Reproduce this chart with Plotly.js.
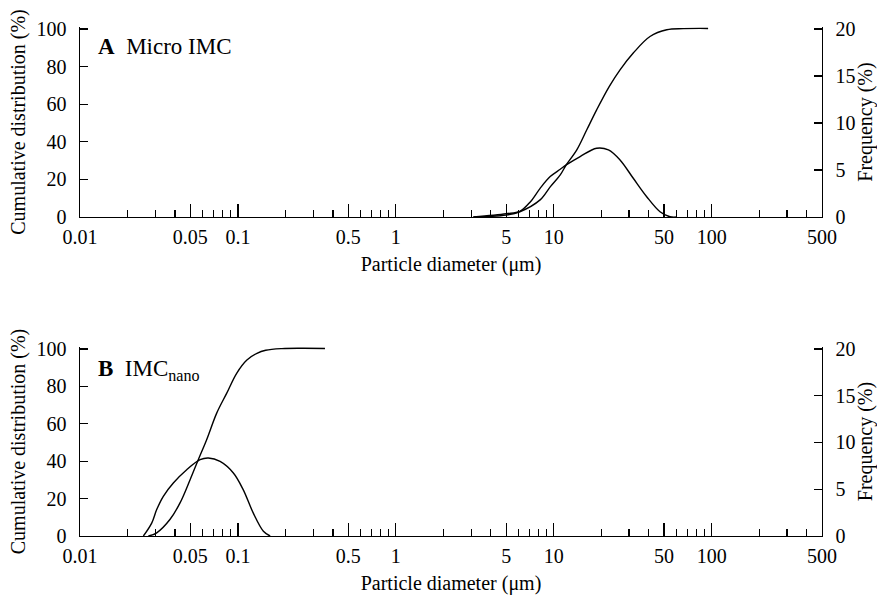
<!DOCTYPE html>
<html>
<head>
<meta charset="utf-8">
<script src="https://cdn.plot.ly/plotly-3.0.1.min.js"></script>
<style>html,body{margin:0;padding:0;background:#fff;}</style>
</head>
<body>
<div id="chart" style="width:877px;height:595px;"></div>
<script>
// ---- Panel A: Micro IMC ----
const microCumX = [3.1, 5, 6.1, 8.2, 9.5, 11.0, 12.0, 14.0, 16.2, 18.7, 22.5, 26.3, 31.9, 40.7, 52, 66, 95];
const microCumY = [0, 1.0, 2.8, 9.1, 16, 22.4, 27.7, 35.7, 46.4, 57, 69.5, 78.3, 87.2, 96, 99.6, 100.2, 100.3];
const microFreqX = [3.1, 5, 6.1, 7.1, 8.2, 9.5, 11.0, 12.0, 14.7, 18.7, 22.2, 26.3, 31.9, 38.8, 47.1, 54.5, 60];
const microFreqY = [0, 0.35, 0.6, 1.6, 3.05, 4.3, 5.08, 5.54, 6.43, 7.32, 7.14, 6.07, 4.12, 2.16, 0.56, 0.03, 0];

// ---- Panel B: IMC nano ----
const nanoCumX = [0.0271, 0.0306, 0.0371, 0.043, 0.0498, 0.0561, 0.0634, 0.0734, 0.085, 0.0982, 0.114, 0.132, 0.15, 0.19, 0.25, 0.356];
const nanoCumY = [0, 1.7, 8.8, 17.7, 30.1, 40.8, 51.5, 65.7, 76.4, 87, 94.1, 97.7, 99.3, 100.2, 100.4, 100.3];
const nanoFreqX = [0.0252, 0.0285, 0.0306, 0.0337, 0.039, 0.0474, 0.0576, 0.065, 0.0771, 0.0936, 0.108, 0.125, 0.145, 0.16];
const nanoFreqY = [0, 1.41, 2.83, 4.25, 5.67, 7.09, 8.16, 8.34, 7.98, 6.74, 4.96, 2.47, 0.51, 0];

// ---- Axis ticks ----
const majorTicks = [0.01, 0.05, 0.1, 0.5, 1, 5, 10, 50, 100, 500];
const majorLabels = ['0.01', '0.05', '0.1', '0.5', '1', '5', '10', '50', '100', '500'];
const minorTicks = [0.02, 0.03, 0.04, 0.06, 0.07, 0.08, 0.09,
  0.2, 0.3, 0.4, 0.6, 0.7, 0.8, 0.9,
  2, 3, 4, 6, 7, 8, 9,
  20, 30, 40, 60, 70, 80, 90,
  200, 300, 400];
const cumTicks = [0, 20, 40, 60, 80, 100];
const freqTicks = [0, 5, 10, 15, 20];

const FONT = {family: 'Liberation Serif, Times New Roman, serif', size: 20, color: '#000'};
const ANN_FONT = {family: 'Liberation Serif, Times New Roman, serif', size: 23, color: '#000'};
const lineStyle = {color: '#000', width: 1.4, shape: 'spline', smoothing: 1};

const traces = [
  {x: microCumX, y: microCumY, xaxis: 'x', yaxis: 'y', mode: 'lines', line: lineStyle},
  {x: microFreqX, y: microFreqY, xaxis: 'x', yaxis: 'y2', mode: 'lines', line: lineStyle},
  {x: nanoCumX, y: nanoCumY, xaxis: 'x2', yaxis: 'y3', mode: 'lines', line: lineStyle},
  {x: nanoFreqX, y: nanoFreqY, xaxis: 'x2', yaxis: 'y4', mode: 'lines', line: lineStyle}
];

function xAxis(anchor) {
  return {
    type: 'log', range: [-2, Math.log10(500)], anchor: anchor,
    showline: true, linecolor: '#000', linewidth: 1.4, mirror: false,
    showgrid: false, zeroline: false,
    tickmode: 'array', tickvals: majorTicks, ticktext: majorLabels,
    ticks: 'inside', ticklen: 13, tickwidth: 1.3, tickcolor: '#000',
    ticklabelstandoff: 2,
    minor: {tickmode: 'array', tickvals: minorTicks, ticks: 'inside', ticklen: 7, tickwidth: 1.2, tickcolor: '#000', showgrid: false},
    tickfont: FONT,
    title: {text: 'Particle diameter (μm)', font: FONT, standoff: 9}
  };
}
function yLeft(domain, anchor) {
  return {
    domain: domain, anchor: anchor, range: [0, 101.06],
    showline: true, linecolor: '#000', linewidth: 1.4,
    showgrid: false, zeroline: false,
    tickmode: 'array', tickvals: cumTicks,
    ticks: 'inside', ticklen: 8, tickwidth: 1.3, tickcolor: '#000',
    ticklabelstandoff: 8,
    tickfont: FONT,
    title: {text: 'Cumulative distribution (%)', font: FONT, standoff: 5}
  };
}
function yRight(overlay, anchor) {
  return {
    overlaying: overlay, anchor: anchor, side: 'right', range: [0, 20.212],
    showline: true, linecolor: '#000', linewidth: 1.4,
    showgrid: false, zeroline: false,
    tickmode: 'array', tickvals: freqTicks,
    ticks: 'inside', ticklen: 8, tickwidth: 1.3, tickcolor: '#000',
    ticklabelstandoff: 8,
    tickfont: FONT,
    title: {text: 'Frequency (%)', font: FONT, standoff: 4}
  };
}

const layout = {
  width: 877, height: 595,
  margin: {l: 80, r: 55, t: 27, b: 59},
  paper_bgcolor: '#fff', plot_bgcolor: '#fff',
  showlegend: false,
  font: FONT,
  xaxis: xAxis('y'),
  yaxis: yLeft([0.6267, 1], 'x'),
  yaxis2: yRight('y', 'x'),
  xaxis2: xAxis('y3'),
  yaxis3: yLeft([0, 0.3713], 'x2'),
  yaxis4: yRight('y3', 'x2'),
  annotations: [
    {xref: 'paper', yref: 'paper', x: 0.022, y: 0.962, xanchor: 'left', yanchor: 'middle',
     text: '<b>A</b>&nbsp;&nbsp;Micro IMC', showarrow: false, font: ANN_FONT},
    {xref: 'paper', yref: 'paper', x: 0.022, y: 0.327, xanchor: 'left', yanchor: 'middle',
     text: '<b>B</b>&nbsp;&nbsp;IMC<sub>nano</sub>', showarrow: false, font: ANN_FONT}
  ]
};

Plotly.newPlot('chart', traces, layout, {displayModeBar: false, staticPlot: true});
</script>
</body>
</html>
